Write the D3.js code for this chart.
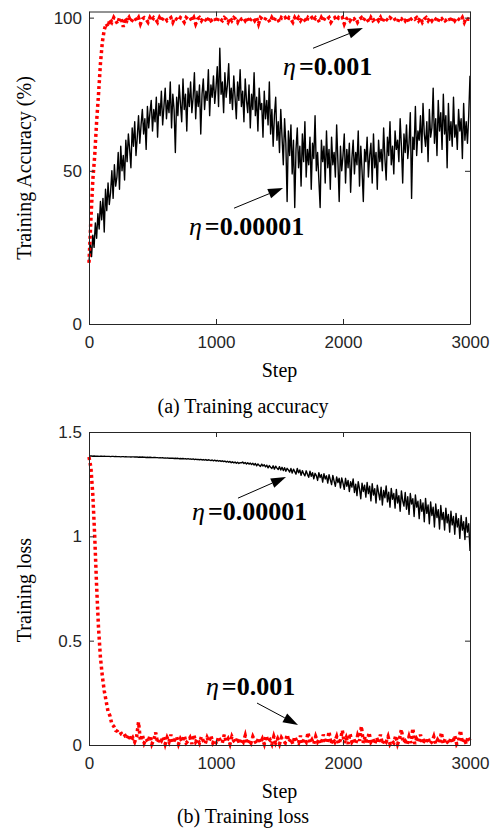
<!DOCTYPE html>
<html>
<head>
<meta charset="utf-8">
<script src="https://cdn.jsdelivr.net/npm/d3@7"></script>
<style>
  body { margin: 0; background: #fff; }
</style>
</head>
<body>
<script>
// training accuracy, eta = 0.00001 (one value every 10 steps)
var accSlow = [
  20, 26, 22, 29, 25, 33, 28, 36, 31, 40,
  34, 41, 30, 44, 37, 46, 39, 43, 50, 41,
  52, 45, 48, 56, 44, 58, 50, 55, 47, 60,
  53, 62, 57, 51, 64, 58, 66, 55, 61, 68,
  59, 65, 70, 62, 67, 57, 71, 64, 69, 73,
  63, 70, 66, 74, 61, 72, 68, 76, 65, 71,
  77, 67, 73, 69, 79, 64, 75, 70, 56, 74,
  68, 78, 72, 66, 80, 70, 75, 63, 77, 71,
  79, 69, 74, 82, 67, 76, 71, 78, 62, 75,
  80, 70, 76, 73, 83, 68, 78, 74, 81, 72,
  77, 84, 71, 90, 75, 79, 69, 82, 74, 78,
  85, 72, 77, 70, 81, 74, 67, 79, 73, 83,
  71, 76, 66, 80, 73, 69, 78, 64, 75, 70,
  82, 68, 74, 63, 77, 70, 72, 61, 76, 67,
  73, 65, 79, 62, 70, 58, 68, 74, 60, 66,
  56, 70, 61, 52, 67, 59, 40, 63, 55, 65,
  49, 60, 38, 57, 64, 51, 58, 45, 62, 53,
  66, 48, 57, 52, 61, 44, 59, 54, 68, 50,
  56, 47, 38, 60, 53, 58, 46, 63, 51, 57,
  44, 61, 52, 56, 48, 65, 53, 40, 58, 50,
  55, 62, 46, 57, 51, 59, 43, 54, 60, 49,
  56, 52, 63, 45, 58, 50, 40, 57, 53, 61,
  48, 55, 59, 46, 62, 51, 56, 44, 60, 53,
  57, 50, 64, 54, 47, 61, 55, 66, 52, 58,
  49, 63, 57, 60, 53, 67, 58, 46, 62, 56,
  65, 54, 59, 69, 41, 61, 57, 71, 55, 63,
  60, 68, 56, 72, 62, 58, 66, 53, 70, 61,
  64, 77, 59, 67, 55, 73, 63, 69, 57, 75,
  62, 68, 51, 72, 60, 66, 58, 74, 61, 65,
  57, 70, 63, 67, 54, 72, 60, 66, 59, 68,
  81
];

// training accuracy, eta = 0.001 (one value every 15 steps)
var accFast = [
  20, 34, 47, 55, 66, 75, 85, 92, 96, 98,
  97, 99.5, 98.5, 100, 99, 98, 100, 99.5, 97, 100,
  99, 100, 98.5, 99.5, 100, 99, 100, 98, 99.5, 100,
  99.5, 98.5, 100, 99, 100, 99.5, 98.5, 100, 99, 100,
  100, 99, 99.5, 100, 98.5, 100, 99.5, 99, 100, 99.5,
  98.5, 100, 99.5, 100, 99, 100, 98, 99.5, 100, 99,
  100, 99.5, 98.5, 100, 99, 99.5, 100, 98.5, 100, 99.5,
  99, 100, 99.5, 98.5, 100, 99, 100, 99.5, 98.5, 100,
  99.5, 100, 99, 100, 98.5, 99.5, 100, 99, 100, 98,
  100, 99.5, 99, 100, 99.5, 98.5, 100, 99, 100, 99.5,
  98.5, 100, 99.5, 100, 99, 100, 99.5, 98.5, 100, 99,
  100, 99, 100, 99.5, 98.5, 100, 99.5, 100, 99, 100,
  99.5, 98.5, 100, 99, 100, 99.5, 100, 98.5, 99.5, 100,
  99, 100, 99.5, 100, 98, 99.5, 100, 99, 100, 99.5,
  100, 98.5, 99.5, 100, 99, 100, 99.5, 98.5, 100, 99,
  99.5, 100, 99, 100, 98.5, 100, 99.5, 99, 100, 99.5,
  100, 99, 98.5, 100, 99.5, 100, 99, 100, 98.5, 99.5,
  100, 99.5, 100, 99, 100, 98.5, 99.5, 100, 99, 100,
  99, 100, 99.5, 98.5, 100, 99.5, 100, 99, 99.5, 100,
  98.5, 100, 99, 100, 99.5, 99, 100, 98.5, 100, 99.5,
  99.5
];

// training loss, eta = 0.00001 (one value every 10 steps)
var lossSlow = [
  1.385, 1.385, 1.385, 1.384, 1.385, 1.384, 1.384, 1.384, 1.383, 1.384,
  1.384, 1.383, 1.384, 1.383, 1.383, 1.383, 1.383, 1.382, 1.383, 1.383,
  1.382, 1.383, 1.382, 1.382, 1.382, 1.381, 1.382, 1.382, 1.381, 1.382,
  1.381, 1.381, 1.381, 1.380, 1.381, 1.381, 1.380, 1.380, 1.380, 1.379,
  1.380, 1.379, 1.380, 1.379, 1.379, 1.378, 1.379, 1.378, 1.379, 1.378,
  1.377, 1.378, 1.378, 1.377, 1.377, 1.376, 1.377, 1.376, 1.377, 1.375,
  1.376, 1.375, 1.376, 1.374, 1.375, 1.374, 1.375, 1.373, 1.374, 1.373,
  1.374, 1.372, 1.373, 1.372, 1.373, 1.371, 1.372, 1.370, 1.372, 1.370,
  1.371, 1.369, 1.371, 1.368, 1.370, 1.368, 1.369, 1.367, 1.369, 1.366,
  1.368, 1.365, 1.368, 1.364, 1.367, 1.365, 1.363, 1.366, 1.362, 1.365,
  1.361, 1.364, 1.360, 1.363, 1.359, 1.362, 1.358, 1.361, 1.356, 1.360,
  1.355, 1.359, 1.353, 1.357, 1.352, 1.356, 1.350, 1.355, 1.349, 1.353,
  1.352, 1.356, 1.349, 1.354, 1.347, 1.353, 1.346, 1.351, 1.344, 1.350,
  1.342, 1.349, 1.338, 1.347, 1.340, 1.335, 1.346, 1.337, 1.343, 1.333,
  1.341, 1.328, 1.339, 1.331, 1.325, 1.338, 1.322, 1.336, 1.327, 1.320,
  1.334, 1.318, 1.331, 1.315, 1.329, 1.312, 1.326, 1.318, 1.308, 1.325,
  1.303, 1.322, 1.310, 1.298, 1.325, 1.305, 1.318, 1.292, 1.315, 1.300,
  1.290, 1.314, 1.297, 1.283, 1.312, 1.288, 1.305, 1.276, 1.302, 1.291,
  1.268, 1.305, 1.282, 1.296, 1.260, 1.300, 1.275, 1.290, 1.255, 1.295,
  1.272, 1.248, 1.292, 1.265, 1.240, 1.285, 1.258, 1.278, 1.232, 1.280,
  1.255, 1.225, 1.278, 1.240, 1.268, 1.215, 1.262, 1.236, 1.275, 1.210,
  1.250, 1.195, 1.262, 1.228, 1.180, 1.255, 1.215, 1.245, 1.188, 1.258,
  1.205, 1.240, 1.170, 1.252, 1.198, 1.228, 1.160, 1.245, 1.210, 1.175,
  1.235, 1.150, 1.220, 1.185, 1.242, 1.165, 1.212, 1.140, 1.230, 1.178,
  1.205, 1.135, 1.225, 1.160, 1.195, 1.120, 1.218, 1.170, 1.145, 1.210,
  1.130, 1.190, 1.105, 1.205, 1.155, 1.180, 1.095, 1.198, 1.140, 1.168,
  1.085, 1.175, 1.120, 1.160, 1.070, 1.182, 1.110, 1.150, 1.060, 1.165,
  1.100, 1.140, 1.045, 1.155, 1.090, 1.128, 1.035, 1.148, 1.080, 1.115,
  1.030, 1.135, 1.065, 1.105, 1.020, 1.120, 1.055, 1.095, 1.010, 1.110,
  1.045, 1.085, 0.990, 1.100, 1.030, 1.070, 0.985, 1.090, 1.020, 1.060,
  0.930
];

// training loss, eta = 0.001 (one value every 15 steps)
var lossFast = [
  1.38, 1.33, 1.20, 1.00, 0.76, 0.56, 0.42, 0.33, 0.26, 0.21,
  0.16, 0.14, 0.10, 0.09, 0.07, 0.065, 0.05, 0.055, 0.04, 0.045,
  0.03, 0.05, 0.02, 0.035, 0.015, 0.04, 0.11, 0.02, 0.05, 0.01,
  0.03, 0.015, 0.045, 0.005, 0.025, 0.06, 0.01, 0.03, 0.02, 0.04,
  0.005, 0.035, 0.015, 0.05, 0.01, 0.025, 0.04, 0.005, 0.03, 0.015,
  0.045, 0.01, 0.02, 0.035, 0.005, 0.05, 0.015, 0.03, 0.01, 0.04,
  0.02, 0.005, 0.035, 0.015, 0.045, 0.01, 0.025, 0.005, 0.04, 0.02,
  0.01, 0.05, 0.015, 0.03, 0.005, 0.04, 0.02, 0.01, 0.035, 0.005,
  0.03, 0.015, 0.045, 0.005, 0.025, 0.01, 0.04, 0.02, 0.005, 0.035,
  0.01, 0.03, 0.005, 0.045, 0.015, 0.025, 0.005, 0.04, 0.01, 0.03,
  0.005, 0.035, 0.02, 0.01, 0.05, 0.015, 0.03, 0.005, 0.04, 0.02,
  0.01, 0.045, 0.005, 0.03, 0.015, 0.06, 0.01, 0.025, 0.005, 0.04,
  0.015, 0.03, 0.005, 0.05, 0.02, 0.01, 0.065, 0.005, 0.03, 0.015,
  0.04, 0.005, 0.025, 0.07, 0.01, 0.035, 0.005, 0.055, 0.015, 0.03,
  0.005, 0.045, 0.02, 0.09, 0.01, 0.04, 0.005, 0.06, 0.015, 0.03,
  0.005, 0.035, 0.01, 0.05, 0.005, 0.025, 0.015, 0.04, 0.005, 0.02,
  0.01, 0.045, 0.005, 0.03, 0.075, 0.01, 0.02, 0.005, 0.04, 0.01,
  0.08, 0.005, 0.03, 0.015, 0.05, 0.005, 0.02, 0.01, 0.035, 0.005,
  0.015, 0.04, 0.005, 0.025, 0.01, 0.06, 0.005, 0.03, 0.015, 0.005,
  0.035, 0.01, 0.045, 0.005, 0.02, 0.07, 0.01, 0.03, 0.005, 0.04,
  0.02
];

var slowEvery = 10;
var fastEvery = 15;
var stepTicks = [0, 1000, 2000, 3000];
var accTicks = [0, 50, 100];
var lossTicks = [0, 0.5, 1, 1.5];

var left = 89, right = 470;

var svg = d3.select('body').append('svg')
  .attr('width', 497)
  .attr('height', 834);

function drawPanel(p) {
  var x = d3.scaleLinear().domain([0, 3000]).range([left, right]);
  var y = d3.scaleLinear().domain(p.yDomain).range([p.bottom, p.top]);
  var g = svg.append('g');

  var line = d3.line()
    .x(function(d) { return x(d[0]); })
    .y(function(d) { return y(d[1]); });

  var slow = p.slow.map(function(v, i) { return [i * slowEvery, v]; });
  var fast = p.fast.map(function(v, i) { return [i * fastEvery, v]; });

  g.append('path')
    .attr('d', line(slow))
    .attr('fill', 'none')
    .attr('stroke', '#000')
    .attr('stroke-width', 1.4)
    .attr('stroke-linejoin', 'round');

  g.append('path')
    .attr('d', line(fast))
    .attr('fill', 'none')
    .attr('stroke', '#ff0000')
    .attr('stroke-width', 3.5)
    .attr('stroke-dasharray', '3,3');

  // box with inward ticks
  g.append('g')
    .attr('transform', 'translate(0,' + p.bottom + ')')
    .call(d3.axisBottom(x).tickValues(stepTicks).tickSize(-5).tickSizeOuter(0).tickPadding(12)
      .tickFormat(d3.format('d')));
  g.append('g')
    .attr('transform', 'translate(' + left + ',0)')
    .call(d3.axisLeft(y).tickValues(p.ticks).tickSize(-5).tickSizeOuter(0).tickPadding(7)
      .tickFormat(d3.format('~g')));
  g.append('g')
    .attr('transform', 'translate(0,' + p.top + ')')
    .call(d3.axisTop(x).tickValues(stepTicks).tickSize(-5).tickSizeOuter(0).tickFormat(''));
  g.append('g')
    .attr('transform', 'translate(' + right + ',0)')
    .call(d3.axisRight(y).tickValues(p.ticks).tickSize(-5).tickSizeOuter(0).tickFormat(''));

  g.selectAll('.domain, .tick line').attr('stroke', '#262626');
  g.selectAll('.tick text')
    .attr('fill', '#262626')
    .style('font-family', '"Liberation Sans", Arial, sans-serif')
    .style('font-size', '17px');

  g.append('text')
    .attr('x', (left + right) / 2)
    .attr('y', p.bottom + 53)
    .attr('text-anchor', 'middle')
    .style('font-family', '"Liberation Serif", "Times New Roman", serif')
    .style('font-size', '20px')
    .text('Step');

  g.append('text')
    .attr('transform', 'translate(31,' + p.yLabelMid + ') rotate(-90)')
    .attr('text-anchor', 'middle')
    .style('font-family', '"Liberation Serif", "Times New Roman", serif')
    .style('font-size', '20px')
    .text(p.yLabel);

  g.append('text')
    .attr('x', 243)
    .attr('y', p.captionY)
    .attr('text-anchor', 'middle')
    .style('font-family', '"Liberation Serif", "Times New Roman", serif')
    .style('font-size', '20px')
    .text(p.caption);

  p.notes.forEach(function(n) {
    var t = g.append('text')
      .attr('x', x(n.at[0]))
      .attr('y', y(n.at[1]))
      .style('font-family', '"Liberation Serif", "Times New Roman", serif')
      .style('font-size', '26px')
      .style('font-weight', 'bold');
    t.append('tspan').style('font-style', 'italic').style('font-weight', 'normal').text('\u03b7');
    t.append('tspan').attr('dx', 3).text('=' + n.label);

    var x0 = x(n.from[0]), y0 = y(n.from[1]);
    var x1 = x(n.to[0]), y1 = y(n.to[1]);
    var ang = Math.atan2(y1 - y0, x1 - x0);
    var len = 15, half = 5;
    var bx = x1 - len * Math.cos(ang), by = y1 - len * Math.sin(ang);
    g.append('line')
      .attr('x1', x0).attr('y1', y0)
      .attr('x2', bx).attr('y2', by)
      .attr('stroke', '#000')
      .attr('stroke-width', 1);
    g.append('path')
      .attr('d', 'M' + x1 + ',' + y1 +
        'L' + (bx + half * Math.sin(ang)) + ',' + (by - half * Math.cos(ang)) +
        'L' + (bx - half * Math.sin(ang)) + ',' + (by + half * Math.cos(ang)) + 'Z')
      .attr('fill', '#000');
  });
}

drawPanel({
  top: 11.5, bottom: 324, yDomain: [0, 102], ticks: accTicks,
  slow: accSlow, fast: accFast,
  yLabel: 'Training Accuracy (%)', yLabelMid: 168,
  caption: '(a) Training accuracy', captionY: 413,
  notes: [
    { label: '0.001', at: [1528, 81.2], from: [1764, 90], to: [2157, 96.6] },
    { label: '0.00001', at: [787, 29], from: [1142, 37.8], to: [1528, 44.4] }
  ]
});

drawPanel({
  top: 432, bottom: 745, yDomain: [0, 1.5], ticks: lossTicks,
  slow: lossSlow, fast: lossFast,
  yLabel: 'Training loss', yLabelMid: 590,
  caption: '(b) Training loss', captionY: 823,
  notes: [
    { label: '0.00001', at: [811, 1.078], from: [1173, 1.183], to: [1551, 1.284] },
    { label: '0.001', at: [921, 0.24], from: [1323, 0.201], to: [1646, 0.096] }
  ]
});
</script>
</body>
</html>
